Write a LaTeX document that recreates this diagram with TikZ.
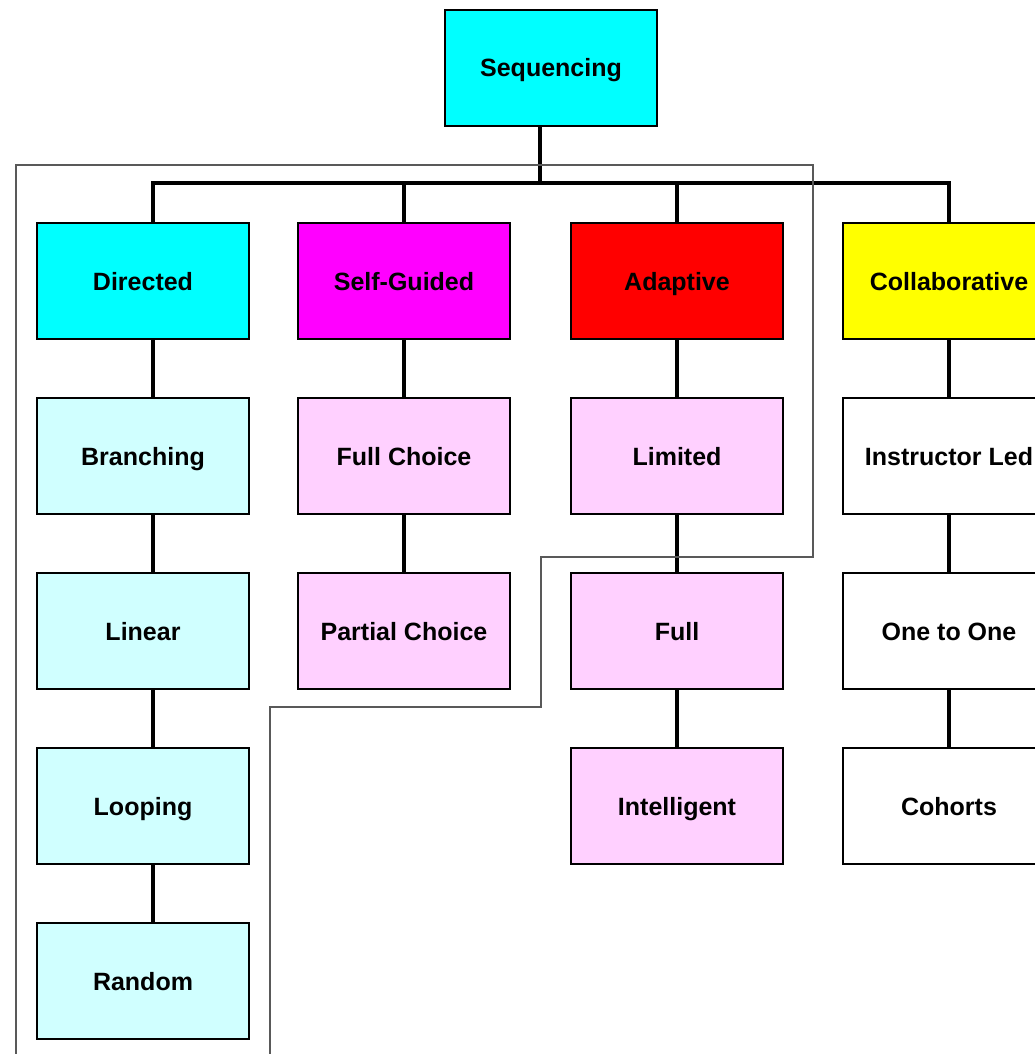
\documentclass[tikz,border=0pt]{standalone}
\usepackage{fontspec}
\setmainfont{Liberation Sans}
\definecolor{cy}{RGB}{0,255,255}
\definecolor{mg}{RGB}{255,0,255}
\definecolor{rd}{RGB}{255,0,0}
\definecolor{yl}{RGB}{255,255,0}
\definecolor{lcyan}{RGB}{208,255,255}
\definecolor{lpink}{RGB}{255,208,255}
\begin{document}
\begin{tikzpicture}[x=1pt,y=-1pt,
  box/.style={draw=black, line width=2pt, minimum width=212pt, minimum height=116pt,
    inner sep=0pt, text height=18pt, text depth=0pt, anchor=north west,
    font=\fontsize{25}{30}\selectfont\bfseries},
  conn/.style={line width=3.2pt, black},
  outline/.style={draw=black!65, line width=2pt}]
\useasboundingbox (0,0) rectangle (1035,1054);
\clip (0,0) rectangle (1035,1054);
\fill[white] (0,0) rectangle (1035,1054);
% nodes
\node[box, fill=cy] (seq) at (444,9) {Sequencing};
\node[box, fill=cy] (dir) at (36,222) {Directed};
\node[box, fill=mg] (self) at (297,222) {Self-Guided};
\node[box, fill=rd] (adapt) at (570,222) {Adaptive};
\node[box, fill=yl] (collab) at (842,222) {Collaborative};
\node[box, fill=lcyan] (branch) at (36,397) {Branching};
\node[box, fill=lcyan] (linear) at (36,572) {Linear};
\node[box, fill=lcyan] (loop) at (36,747) {Looping};
\node[box, fill=lcyan] (random) at (36,922) {Random};
\node[box, fill=lpink] (fullc) at (297,397) {Full Choice};
\node[box, fill=lpink] (partc) at (297,572) {Partial Choice};
\node[box, fill=lpink] (limited) at (570,397) {Limited};
\node[box, fill=lpink] (full) at (570,572) {Full};
\node[box, fill=lpink] (intel) at (570,747) {Intelligent};
\node[box, fill=white] (instr) at (842,397) {Instructor Led};
\node[box, fill=white] (one) at (842,572) {One to One};
\node[box, fill=white] (coh) at (842,747) {Cohorts};
% bus
\coordinate (busL) at (152,183);
\draw[conn] ([xshift=-11pt]seq.south) -- ([xshift=-11pt]seq.south |- busL);
\draw[conn] ([xshift=10pt]dir.north) |- (collab.north |- busL) -- (collab.north);
\draw[conn] (self.north) -- (self.north |- busL);
\draw[conn] (adapt.north) -- (adapt.north |- busL);
% columns
\draw[conn] ([xshift=10pt]dir.south) -- ([xshift=10pt]branch.north);
\draw[conn] ([xshift=10pt]branch.south) -- ([xshift=10pt]linear.north);
\draw[conn] ([xshift=10pt]linear.south) -- ([xshift=10pt]loop.north);
\draw[conn] ([xshift=10pt]loop.south) -- ([xshift=10pt]random.north);
\draw[conn] (self.south) -- (fullc.north);
\draw[conn] (fullc.south) -- (partc.north);
\draw[conn] (adapt.south) -- (limited.north);
\draw[conn] (limited.south) -- (full.north);
\draw[conn] (full.south) -- (intel.north);
\draw[conn] (collab.south) -- (instr.north);
\draw[conn] (instr.south) -- (one.north);
\draw[conn] (one.south) -- (coh.north);
% outline
\draw[outline] (16,1070) -- (16,165) -- (813,165) -- (813,557) -- (541,557)
  -- (541,707) -- (270,707) -- (270,1070);
\end{tikzpicture}
\end{document}
